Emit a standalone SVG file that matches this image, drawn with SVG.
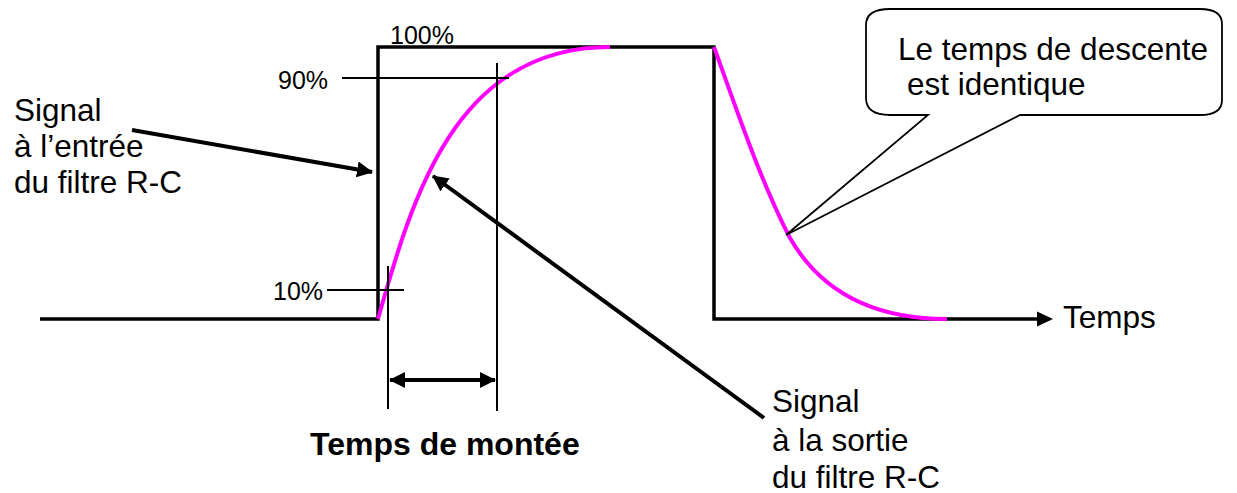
<svg xmlns="http://www.w3.org/2000/svg" width="1237" height="493" viewBox="0 0 1237 493">
<style>
  .txt { font-family: "Liberation Sans", Arial, sans-serif; font-size: 31.5px; fill: #000; }
  .pct { font-family: "Liberation Sans", Arial, sans-serif; font-size: 25px; fill: #000; }
  .bold { font-weight: bold; font-size: 32px; }
  .sig { fill: none; stroke: #000; stroke-width: 3.5; stroke-linejoin: miter; }
  .thin { fill: none; stroke: #000; stroke-width: 2; }
  .out { fill: none; stroke: #FF00FF; stroke-width: 4; stroke-linecap: butt; }
  .arr { fill: none; stroke: #000; stroke-width: 4; }
  .callout { fill: #fff; stroke: #000; stroke-width: 1.8; stroke-linejoin: miter; }
</style>
<defs>
  <marker id="ah" viewBox="0 0 16 16" refX="15" refY="8" markerWidth="16" markerHeight="16" markerUnits="userSpaceOnUse" orient="auto-start-reverse">
    <path d="M0,0 L16,8 L0,16 Z" fill="#000"/>
  </marker>
</defs>

<g id="input-signal">
  <path class="sig" d="M40,319 L378,319 L378,47 L714,47 L714,319 L1040,319"/>
  <path d="M1037,311.5 L1053,319 L1037,326.5 Z" fill="#000"/>
</g>

<g id="output-signal">
  <path class="out" d="M378,319 C412,198 455,47 610,47"/>
  <path class="out" d="M714,47 C735,105 760,180 790,238 C820,290 870,319 947,319"/>
</g>

<g id="levels">
  <line class="thin" x1="342" y1="78" x2="509" y2="78"/>
  <line class="thin" x1="327" y1="290" x2="404" y2="290"/>
  <line class="thin" x1="388" y1="266" x2="388" y2="409"/>
  <line class="thin" x1="497" y1="63" x2="497" y2="411"/>
  <text class="pct" x="390" y="44">100%</text>
  <text class="pct" x="278" y="89">90%</text>
  <text class="pct" x="273" y="300">10%</text>
</g>

<g id="connectors">
  <line class="arr" x1="390" y1="380" x2="495" y2="380" marker-start="url(#ah)" marker-end="url(#ah)"/>
  <line class="arr" x1="132" y1="130" x2="372" y2="172" marker-end="url(#ah)"/>
  <line class="arr" x1="764" y1="418" x2="433" y2="176" marker-end="url(#ah)"/>
</g>

<g id="label-input">
  <text class="txt" x="14" y="121">Signal</text>
  <text class="txt" x="14" y="157">à l’entrée</text>
  <text class="txt" x="14" y="193">du filtre R-C</text>
</g>

<g id="label-output">
  <text class="txt" x="772" y="412">Signal</text>
  <text class="txt" x="772" y="451">à la sortie</text>
  <text class="txt" x="772" y="488">du filtre R-C</text>
</g>

<g id="label-rise">
  <text class="txt bold" x="310" y="455">Temps de montée</text>
</g>

<g id="label-time">
  <text class="txt" x="1063" y="328">Temps</text>
</g>

<g id="callout">
  <path class="callout" d="M890,9 L1200,9 Q1222,9 1222,24 L1222,100 Q1222,115 1200,115 L1020,115 L786,235 L928,115 L890,115 Q866,115 866,98 L866,25 Q866,9 890,9 Z"/>
  <text class="txt" x="898" y="60">Le temps de descente</text>
  <text class="txt" x="907" y="95">est identique</text>
</g>
</svg>
